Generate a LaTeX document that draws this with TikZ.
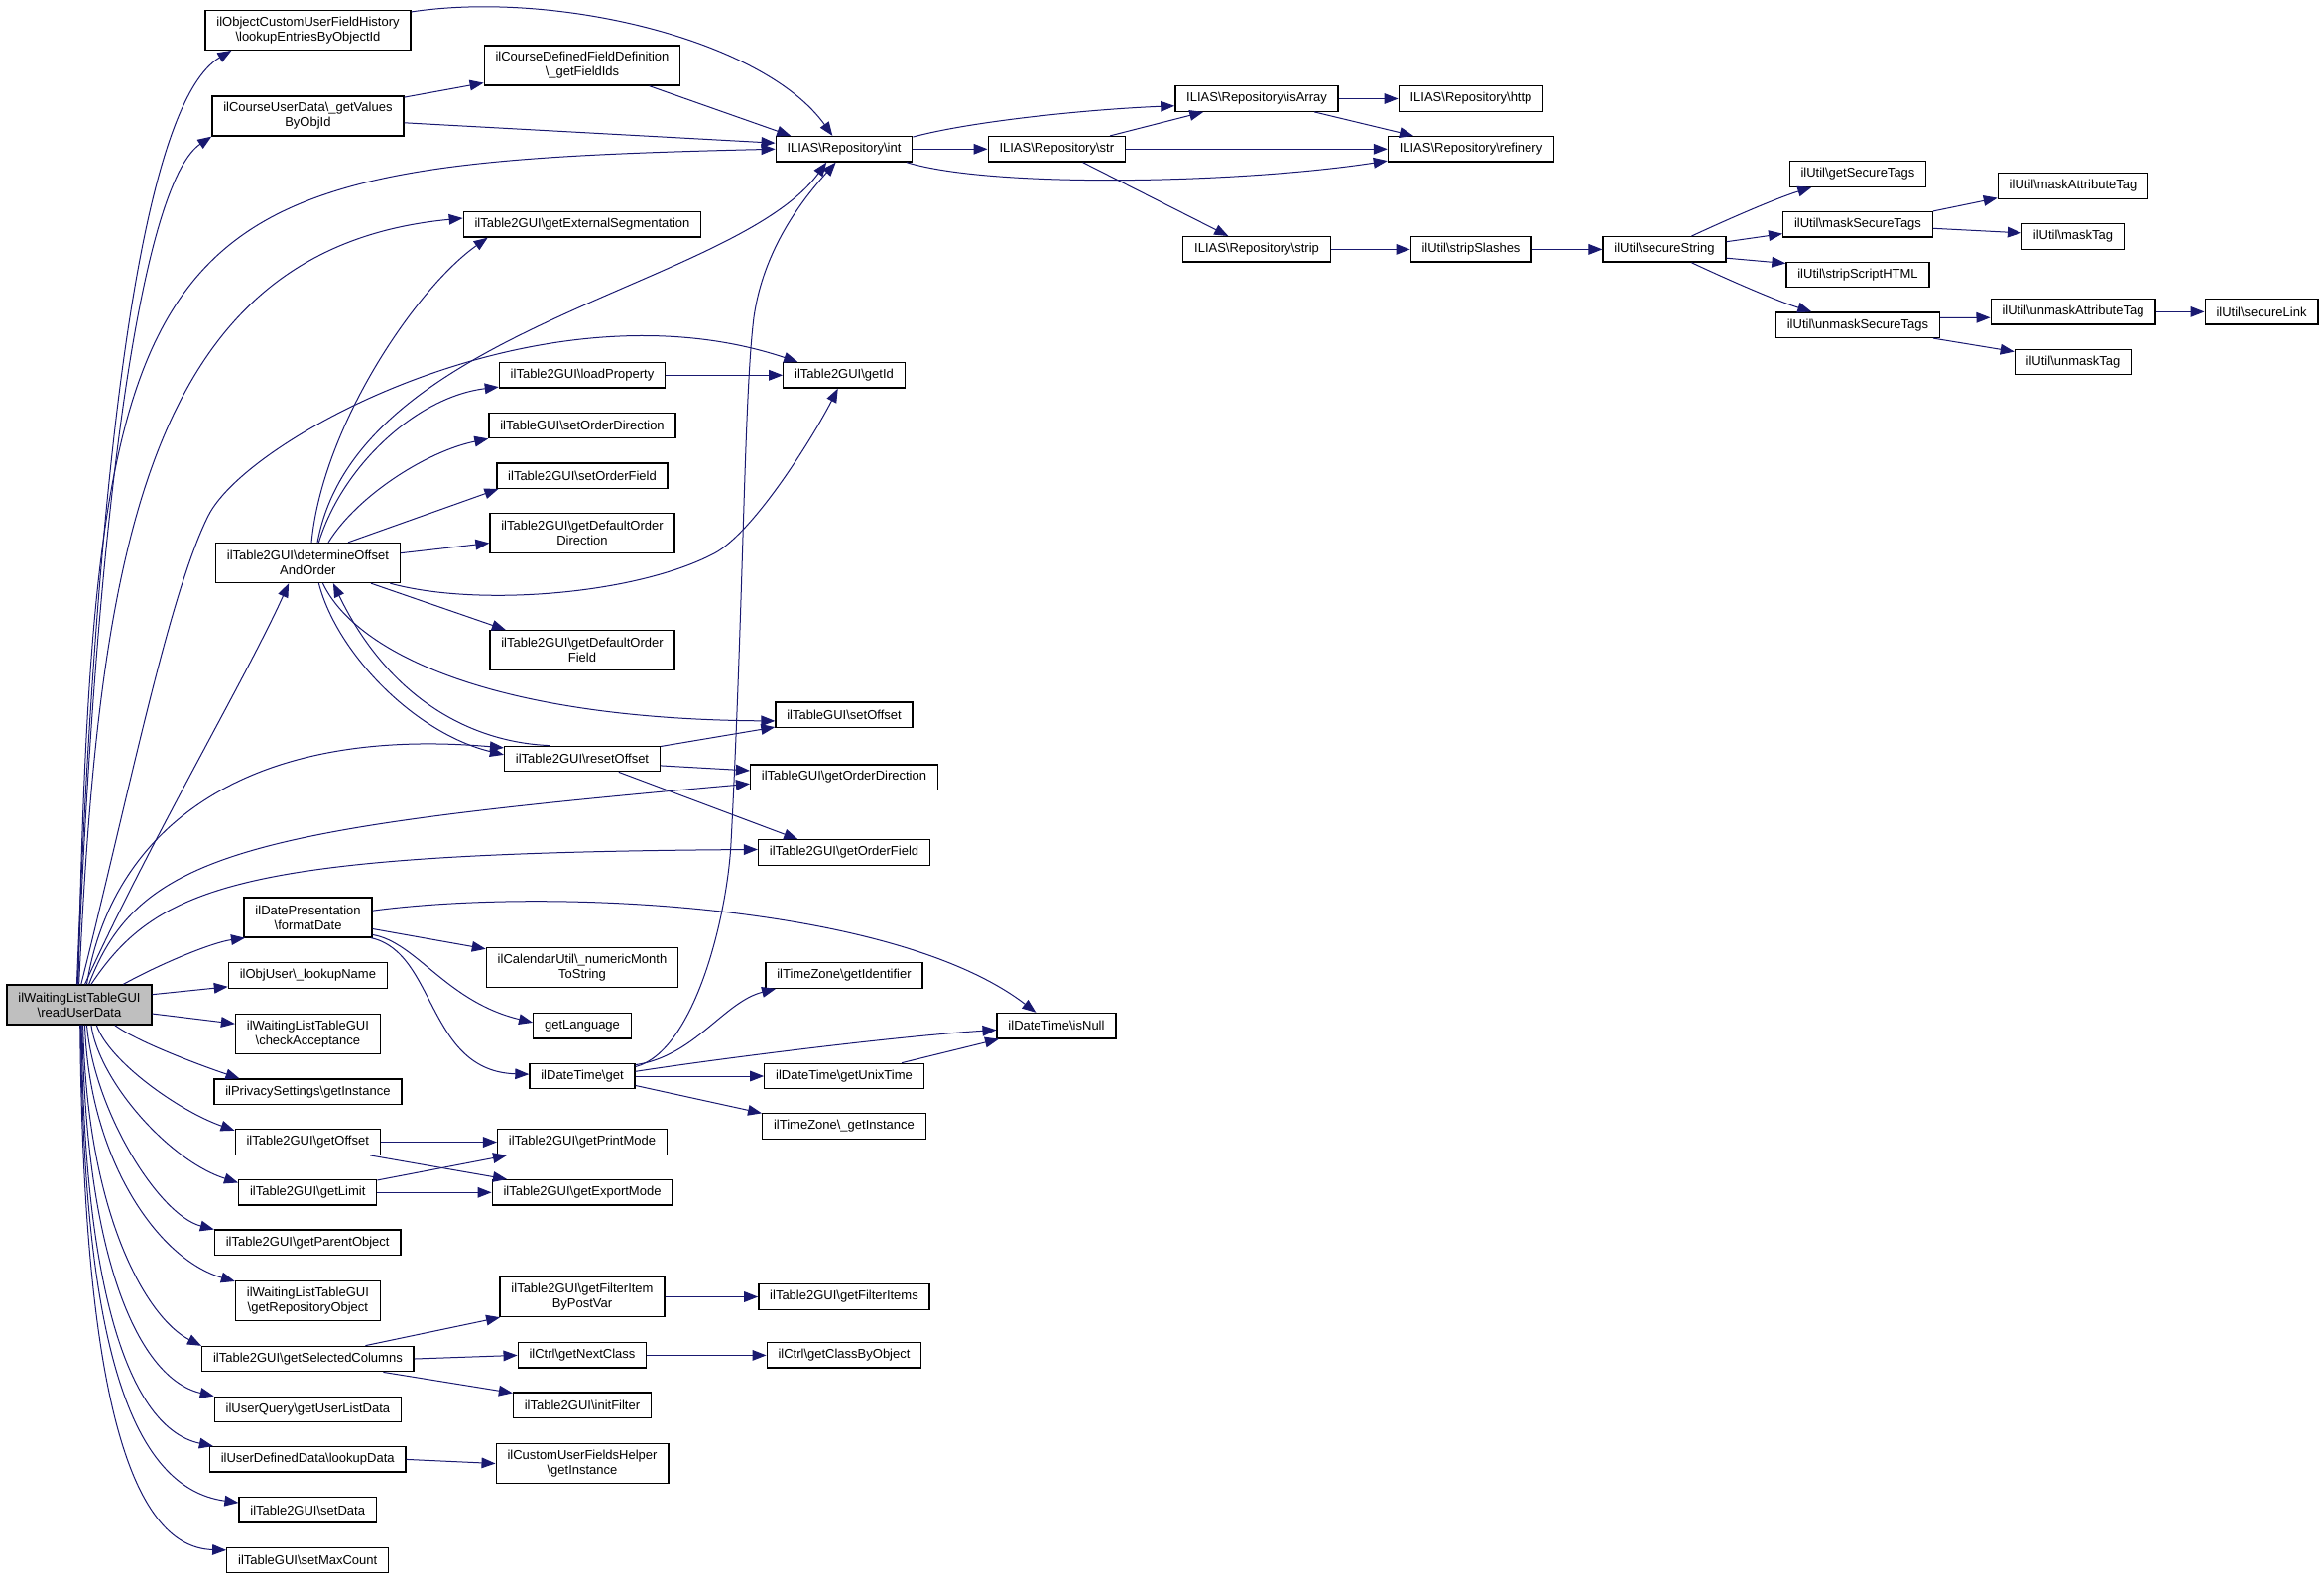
\documentclass[tikz,border=0pt]{standalone}
\usepackage{fontspec}
\setmainfont{Liberation Sans}
\usetikzlibrary{arrows.meta}
\definecolor{edgeblue}{HTML}{191970}
\definecolor{rootgray}{HTML}{BFBFBF}

\begin{document}
\begin{tikzpicture}[x=0.75pt, y=-0.75pt,
  fn/.style={draw=black, fill=white, line width=1pt, inner xsep=8.5pt, inner ysep=2pt,
    minimum height=19.1pt, align=center, font=\fontsize{9.75}{11.4}\selectfont},
  two/.style={minimum height=30pt},
  root/.style={fill=rootgray},
  call/.style={color=edgeblue, line width=0.75pt, -{Triangle[length=10.5pt,width=8pt]}}]
  \useasboundingbox (0,0) rectangle (2343,1592);

  \node[fn, two, root] (R) at (80,1013) {ilWaitingListTableGUI\\\textbackslash readUserData};

  \node[fn, two] (oh) at (310.5,30.3) {ilObjectCustomUserFieldHistory\\\textbackslash lookupEntriesByObjectId};
  \node[fn, two] (cu) at (310.4,117) {ilCourseUserData\textbackslash\_getValues\\ByObjId};
  \node[fn, two] (det) at (310.4,567.5) {ilTable2GUI\textbackslash determineOffset\\AndOrder};
  \node[fn, two] (fmt) at (310.6,925) {ilDatePresentation\\\textbackslash formatDate};
  \node[fn] (ln) at (310.4,983.5) {ilObjUser\textbackslash\_lookupName};
  \node[fn, two] (ca) at (310.4,1042.5) {ilWaitingListTableGUI\\\textbackslash checkAcceptance};
  \node[fn] (ps) at (310.4,1100.8) {ilPrivacySettings\textbackslash getInstance};
  \node[fn] (go) at (310.2,1151.5) {ilTable2GUI\textbackslash getOffset};
  \node[fn] (gl) at (310.2,1202.3) {ilTable2GUI\textbackslash getLimit};
  \node[fn] (gpo) at (310.2,1252.8) {ilTable2GUI\textbackslash getParentObject};
  \node[fn, two] (gro) at (310.4,1311.6) {ilWaitingListTableGUI\\\textbackslash getRepositoryObject};
  \node[fn] (gsc) at (310.4,1370) {ilTable2GUI\textbackslash getSelectedColumns};
  \node[fn] (gul) at (310.4,1420.9) {ilUserQuery\textbackslash getUserListData};
  \node[fn] (ld) at (310.2,1471.4) {ilUserDefinedData\textbackslash lookupData};
  \node[fn] (sd) at (310.2,1522.4) {ilTable2GUI\textbackslash setData};
  \node[fn] (smc) at (310.2,1572.9) {ilTableGUI\textbackslash setMaxCount};

  \node[fn, two] (fd) at (587,66) {ilCourseDefinedFieldDefinition\\\textbackslash\_getFieldIds};
  \node[fn] (ges) at (587,226.3) {ilTable2GUI\textbackslash getExternalSegmentation};
  \node[fn] (lp) at (587,378.3) {ilTable2GUI\textbackslash loadProperty};
  \node[fn] (sod) at (587,429) {ilTableGUI\textbackslash setOrderDirection};
  \node[fn] (sof) at (587,479.6) {ilTable2GUI\textbackslash setOrderField};
  \node[fn, two] (gdd) at (587,537.7) {ilTable2GUI\textbackslash getDefaultOrder\\Direction};
  \node[fn, two] (gdf) at (587,655.7) {ilTable2GUI\textbackslash getDefaultOrder\\Field};
  \node[fn] (ro) at (587,765) {ilTable2GUI\textbackslash resetOffset};
  \node[fn, two] (nm) at (587,975.7) {ilCalendarUtil\textbackslash\_numericMonth\\ToString};
  \node[fn] (gla) at (587,1034.4) {getLanguage};
  \node[fn] (dtg) at (587,1085) {ilDateTime\textbackslash get};
  \node[fn] (gpm) at (587,1151.5) {ilTable2GUI\textbackslash getPrintMode};
  \node[fn] (gem) at (587,1202.3) {ilTable2GUI\textbackslash getExportMode};
  \node[fn, two] (fip) at (587,1307.5) {ilTable2GUI\textbackslash getFilterItem\\ByPostVar};
  \node[fn] (gnc) at (587,1366.4) {ilCtrl\textbackslash getNextClass};
  \node[fn] (inf) at (587,1416.8) {ilTable2GUI\textbackslash initFilter};
  \node[fn, two] (cuf) at (587,1475.5) {ilCustomUserFieldsHelper\\\textbackslash getInstance};

  \node[fn] (int) at (851,150.3) {ILIAS\textbackslash Repository\textbackslash int};
  \node[fn] (getid) at (851,378.3) {ilTable2GUI\textbackslash getId};
  \node[fn] (so) at (851,720.8) {ilTableGUI\textbackslash setOffset};
  \node[fn] (god) at (851,783.6) {ilTableGUI\textbackslash getOrderDirection};
  \node[fn] (gof) at (851,859.5) {ilTable2GUI\textbackslash getOrderField};
  \node[fn] (tzid) at (851,983.5) {ilTimeZone\textbackslash getIdentifier};
  \node[fn] (gut) at (851,1085) {ilDateTime\textbackslash getUnixTime};
  \node[fn] (tzi) at (851,1135.5) {ilTimeZone\textbackslash\_getInstance};
  \node[fn] (gfi) at (851,1307.5) {ilTable2GUI\textbackslash getFilterItems};
  \node[fn] (gcb) at (851,1366.4) {ilCtrl\textbackslash getClassByObject};

  \node[fn] (str) at (1065.3,150.3) {ILIAS\textbackslash Repository\textbackslash str};
  \node[fn] (isn) at (1065,1034.2) {ilDateTime\textbackslash isNull};
  \node[fn] (isa) at (1267,99.5) {ILIAS\textbackslash Repository\textbackslash isArray};
  \node[fn] (strip) at (1267,251.4) {ILIAS\textbackslash Repository\textbackslash strip};
  \node[fn] (http) at (1483,99.5) {ILIAS\textbackslash Repository\textbackslash http};
  \node[fn] (ref) at (1483,150.3) {ILIAS\textbackslash Repository\textbackslash refinery};
  \node[fn] (ssl) at (1483,251.4) {ilUtil\textbackslash stripSlashes};
  \node[fn] (ss) at (1678,251.4) {ilUtil\textbackslash secureString};
  \node[fn] (gst) at (1873,175.5) {ilUtil\textbackslash getSecureTags};
  \node[fn] (mst) at (1873,226.3) {ilUtil\textbackslash maskSecureTags};
  \node[fn] (ssh) at (1873,277) {ilUtil\textbackslash stripScriptHTML};
  \node[fn] (ust) at (1873,327.7) {ilUtil\textbackslash unmaskSecureTags};
  \node[fn] (mat) at (2090,187.5) {ilUtil\textbackslash maskAttributeTag};
  \node[fn] (mt) at (2090,238.5) {ilUtil\textbackslash maskTag};
  \node[fn] (uat) at (2090,314.4) {ilUtil\textbackslash unmaskAttributeTag};
  \node[fn] (ut) at (2090,365) {ilUtil\textbackslash unmaskTag};
  \node[fn] (sl) at (2280,314.4) {ilUtil\textbackslash secureLink};

  \path[call]
  (R.8) edge (ln.188)
  (R.353) edge (ca.172)
  (cu.11) edge (fd.190)
  (cu.356) edge (int.175)
  (fd.343) edge (int.166)
  (int.east) edge (str.west)
  (str.14) edge (isa.194)
  (str.east) edge (ref.west)
  (str.333) edge (strip.155)
  (isa.east) edge (http.west)
  (isa.347) edge (ref.167)
  (strip.east) edge (ssl.west)
  (ssl.east) edge (ss.west)
  (ss.7) edge (mst.187)
  (ss.352) edge (ssh.171)
  (mst.10) edge (mat.189)
  (mst.357) edge (mt.176)
  (ust.5) edge (uat.184)
  (ust.350) edge (ut.170)
  (uat.east) edge (sl.west)
  (lp.east) edge (getid.west)
  (det.6) edge (gdd.186)
  (det.342) edge (gdf.165)
  (det.27) edge (sof.189)
  (ro.9) edge (so.190)
  (ro.355) edge (god.176)
  (ro.340) edge (gof.164)
  (fmt.350) edge (nm.169)
  (dtg.east) edge (gut.west)
  (dtg.350) edge (tzi.171)
  (gut.13) edge (isn.193)
  (go.east) edge (gpm.west)
  (go.348) edge (gem.170)
  (gl.10) edge (gpm.190)
  (gl.east) edge (gem.west)
  (gsc.13) edge (fip.194)
  (gsc.east) edge (gnc.west)
  (gsc.350) edge (inf.170)
  (fip.east) edge (gfi.west)
  (gnc.east) edge (gcb.west)
  (ld.east) edge (cuf.west)
  ;

  \draw[call] (R.97) .. controls (100,400) and (150,100) .. (oh.195);
  \draw[call] (R.95) .. controls (100,450) and (150,180) .. (cu.192);
  \draw[call] (R.93) .. controls (95,200) and (150,165) .. (int.west);
  \draw[call] (R.91) .. controls (100,550) and (150,250) .. (ges.177);
  \draw[call] (R.85) .. controls (130,800) and (170,600) .. (210,520) .. controls (250,440) and (550,280) .. (getid.164);
  \draw[call] (R.75) .. controls (150,850) and (250,680) .. (det.227);
  \draw[call] (R.70) .. controls (110,850) and (230,730) .. (ro.172);
  \draw[call] (R.65) .. controls (140,860) and (250,835) .. (god.184);
  \draw[call] (R.60) .. controls (160,890) and (250,860) .. (gof.178);
  \draw[call] (R.25) .. controls (165,970) and (215,950) .. (fmt.198);
  \draw[call] (R.330) .. controls (135,1048) and (190,1070) .. (ps.169);
  \draw[call] (R.310) .. controls (110,1070) and (180,1120) .. (go.171);
  \draw[call] (R.300) .. controls (100,1090) and (170,1170) .. (gl.172);
  \draw[call] (R.290) .. controls (95,1120) and (160,1225) .. (gpo.172);
  \draw[call] (R.285) .. controls (90,1170) and (160,1270) .. (gro.165);
  \draw[call] (R.280) .. controls (88,1230) and (150,1330) .. (gsc.173);
  \draw[call] (R.278) .. controls (86,1270) and (140,1390) .. (gul.172);
  \draw[call] (R.276) .. controls (84,1300) and (130,1440) .. (ld.172);
  \draw[call] (R.274) .. controls (84,1350) and (130,1500) .. (sd.174);
  \draw[call] (R.272) .. controls (84,1400) and (130,1560) .. (smc.173);

  \draw[call] (oh.10) .. controls (560,-10) and (770,40) .. (int.131);
  \draw[call] (int.10) .. controls (980,122) and (1100,110) .. (isa.185);
  \draw[call] (int.348) .. controls (1000,190) and (1250,185) .. (ref.188);
  \draw[call] (ss.26) .. controls (1740,222) and (1790,200) .. (gst.196);
  \draw[call] (ss.334) .. controls (1740,281) and (1790,303) .. (ust.164);

  \draw[call] (det.80) .. controls (325,430) and (420,290) .. (ges.188);
  \draw[call] (det.65) .. controls (360,330) and (740,290) .. (int.217);
  \draw[call] (det.62) .. controls (345,470) and (420,400) .. (lp.188);
  \draw[call] (det.45) .. controls (360,500) and (430,455) .. (sod.188);
  \draw[call] (det.346) .. controls (480,612) and (640,600) .. (720,558) .. controls (760,537) and (820,440) .. (getid.245);
  \draw[call] (det.306) .. controls (360,660) and (500,725) .. (so.185);
  \draw[call] (det.298) .. controls (340,660) and (420,740) .. (ro.177);
  \draw[call] (ro.158) .. controls (470,748) and (390,700) .. (det.321);

  \draw[call] (fmt.6) .. controls (550,895) and (900,910) .. (isn.147);
  \draw[call] (fmt.345) .. controls (420,950) and (450,1010) .. (gla.176);
  \draw[call] (fmt.342) .. controls (440,960) and (430,1080) .. (dtg.178);

  \draw[call] (dtg.10) .. controls (700,1060) and (733,925) .. (737,850) .. controls (750,600) and (750,400) .. (760,320) .. controls (770,250) and (810,200) .. (int.238);
  \draw[call] (dtg.12) .. controls (700,1065) and (730,1010) .. (tzid.191);
  \draw[call] (dtg.5) .. controls (720,1068) and (900,1045) .. (isn.184);
\end{tikzpicture}
\end{document}
